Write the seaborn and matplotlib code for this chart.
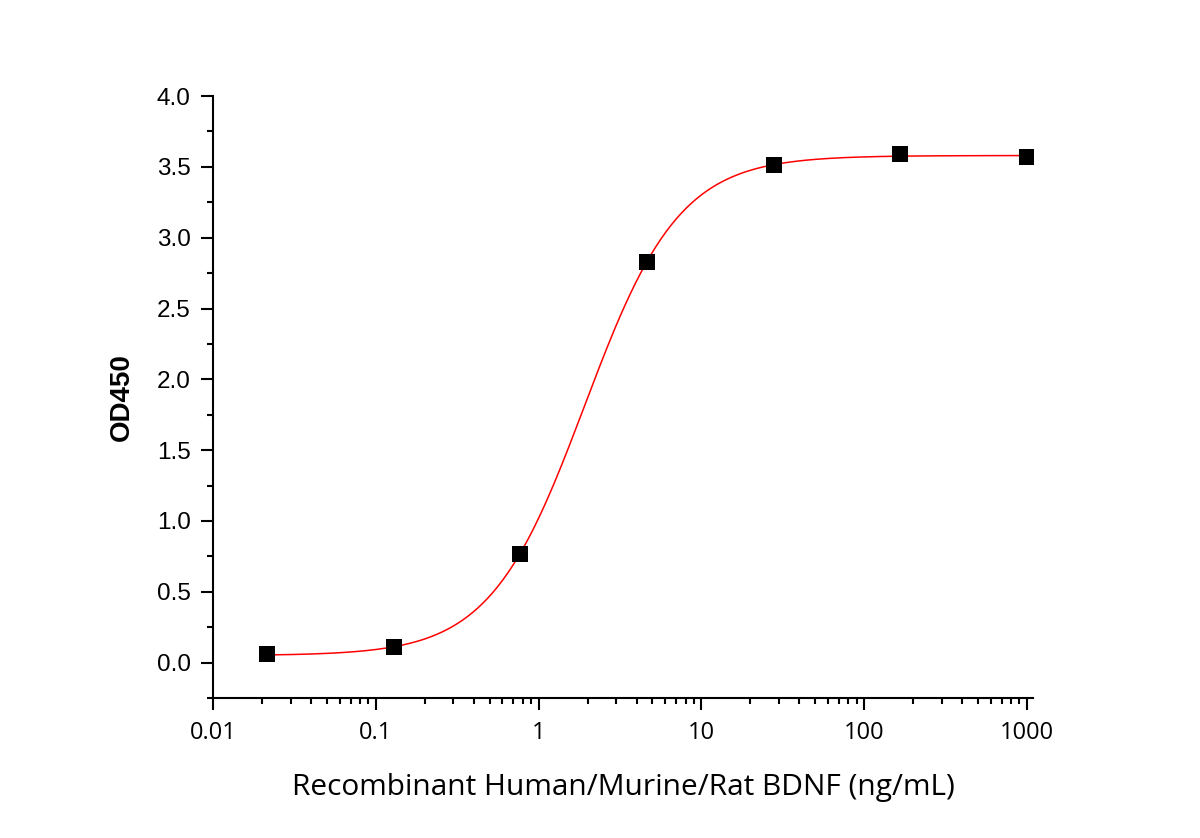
import numpy as np
import pandas as pd
import seaborn as sns
import matplotlib
matplotlib.use("Agg")
import matplotlib.pyplot as plt
from matplotlib.ticker import FixedLocator, LogLocator, NullFormatter

# measured points
conc = [0.0214, 0.1286, 0.772, 4.63, 27.78, 166.7, 1000.0]
od450 = [0.06, 0.11, 0.77, 2.83, 3.51, 3.59, 3.57]

# 4PL fit parameters
bottom, top, ec50, hill = 0.05, 3.58, 1.92, 1.49

x_ticks = [0.01, 0.1, 1, 10, 100, 1000]
x_labels = ["0.01", "0.1", "1", "10", "100", "1000"]
y_ticks = [0.0, 0.5, 1.0, 1.5, 2.0, 2.5, 3.0, 3.5, 4.0]

points = pd.DataFrame({"conc": conc, "od": od450})
xs = np.logspace(np.log10(conc[0]), np.log10(conc[-1]), 300)
fit = pd.DataFrame({"conc": xs, "od": bottom + (top - bottom) / (1 + (ec50 / xs) ** hill)})

sns.set_style("ticks")
plt.rcParams["font.family"] = ["Liberation Sans", "DejaVu Sans"]
plt.rcParams["text.color"] = "black"
plt.rcParams["axes.labelcolor"] = "black"

fig = plt.figure(figsize=(12, 8.38), dpi=100)
ax = fig.add_axes([0.1775, 0.167, 0.6833, 0.7184])

sns.lineplot(data=fit, x="conc", y="od", color="#ff0000", linewidth=1.1, ax=ax)
sns.scatterplot(data=points, x="conc", y="od", marker="s", s=130, color="black",
                edgecolor="black", linewidth=0, ax=ax, zorder=3)

ax.set_xscale("log")
ax.set_xlim(0.01, 1090)
ax.set_ylim(-0.25, 4.0)
ax.set_xticks(x_ticks)
ax.set_xticklabels(x_labels, family=["Open Sans", "DejaVu Sans"], fontsize=17)
ax.xaxis.set_minor_locator(LogLocator(base=10, subs=np.arange(2, 10)))
ax.xaxis.set_minor_formatter(NullFormatter())
ax.set_yticks(y_ticks)
ax.set_yticklabels([f"{v:.1f}" for v in y_ticks], fontsize=17.5)
ax.yaxis.set_minor_locator(FixedLocator(np.arange(-0.25, 4.0, 0.5)))

sns.despine(ax=ax)
for s in ["left", "bottom"]:
    ax.spines[s].set_linewidth(1.5)
    ax.spines[s].set_color("black")
ax.tick_params(which="major", direction="out", length=8.5, width=1.5, colors="black")
ax.tick_params(axis="y", which="major", pad=7.5)
ax.tick_params(axis="x", which="major", pad=8)
ax.tick_params(which="minor", direction="out", length=4.5, width=1.5, colors="black")

ax.set_ylabel("OD450", fontsize=20, fontweight="bold", labelpad=16)
ax.set_xlabel("Recombinant Human/Murine/Rat BDNF (ng/mL)", fontsize=21.5,
              family=["Open Sans", "DejaVu Sans"], labelpad=20)

fig.savefig("out.png", dpi=100)
